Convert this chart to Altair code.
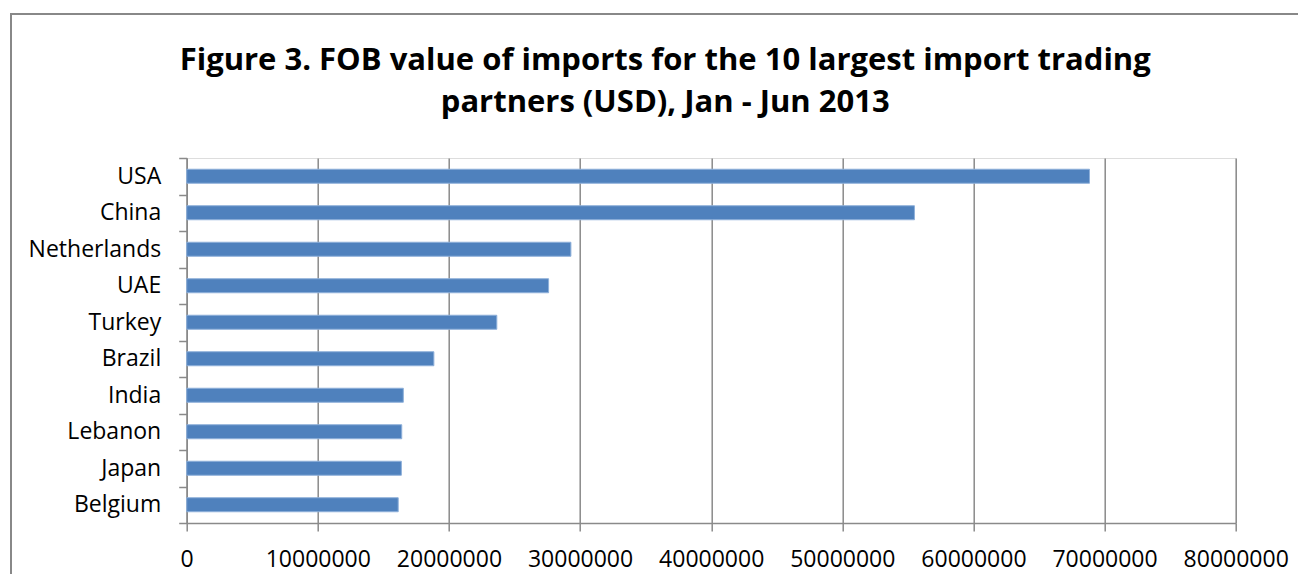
import altair as alt
import pandas as pd

countries = ["USA", "China", "Netherlands", "UAE", "Turkey", "Brazil", "India", "Lebanon", "Japan", "Belgium"]
values = [68850000, 55500000, 29300000, 27600000, 23650000, 18850000, 16520000, 16400000, 16370000, 16130000]
tick_values = [0, 10000000, 20000000, 30000000, 40000000, 50000000, 60000000, 70000000, 80000000]
title_lines = ["Figure 3. FOB value of imports for the 10 largest import trading",
               "partners (USD), Jan - Jun 2013"]

df = pd.DataFrame({"country": countries, "value": values})

FONT = "Open Sans"
GRID = "#8a8a8a"

W, H = 1049, 365
PL, PT = 178.7, 150
SVG_W, SVG_H = 1290, 566

bars = alt.Chart(df).mark_bar(
    color="#4F81BD", stroke="#8EB0DA", strokeWidth=1,
    height=alt.RelativeBandSize(0.384)
).encode(
    x=alt.X("value:Q",
            scale=alt.Scale(domain=[0, 80000000], nice=False, zero=True),
            axis=alt.Axis(values=tick_values, format="d", title=None,
                          grid=True, gridColor=GRID, gridWidth=1.5,
                          domainColor=GRID, domainWidth=1.5,
                          tickColor=GRID, tickWidth=1.5, tickSize=8,
                          labelFont=FONT, labelFontSize=23, labelColor="#000000",
                          labelPadding=17, labelFlush=False, labelOverlap=False)),
    y=alt.Y("country:N", sort=countries,
            scale=alt.Scale(paddingInner=0, paddingOuter=0),
            axis=alt.Axis(title=None, tickBand="extent",
                          domainColor=GRID, domainWidth=1.5,
                          tickColor=GRID, tickWidth=1.5, tickSize=8,
                          labelFont=FONT, labelFontSize=23, labelColor="#000000",
                          labelPadding=18)),
)

frame = alt.Chart(df).mark_rect(
    fill=None, stroke="#888888", strokeWidth=1.5, clip=False
).encode(
    x=alt.value(11 - 8 - PL), x2=alt.value(SVG_W + 20),
    y=alt.value(14 - 8 - PT), y2=alt.value(SVG_H + 20),
)

chart = alt.layer(frame, bars).properties(
    width=W, height=H,
    autosize=alt.AutoSizeParams(type="none"),
    padding={"left": PL, "top": PT, "right": SVG_W - PL - W, "bottom": SVG_H - PT - H},
    title=alt.TitleParams(text=title_lines, font=FONT, fontSize=31, fontWeight="bold",
                          color="#000000", anchor="middle", frame="group",
                          baseline="bottom", dx=-46, dy=137, offset=0, lineHeight=42),
).configure_view(stroke=None).configure(background="white")

chart.save("out.html", embed_options={"renderer": "svg", "actions": False})
